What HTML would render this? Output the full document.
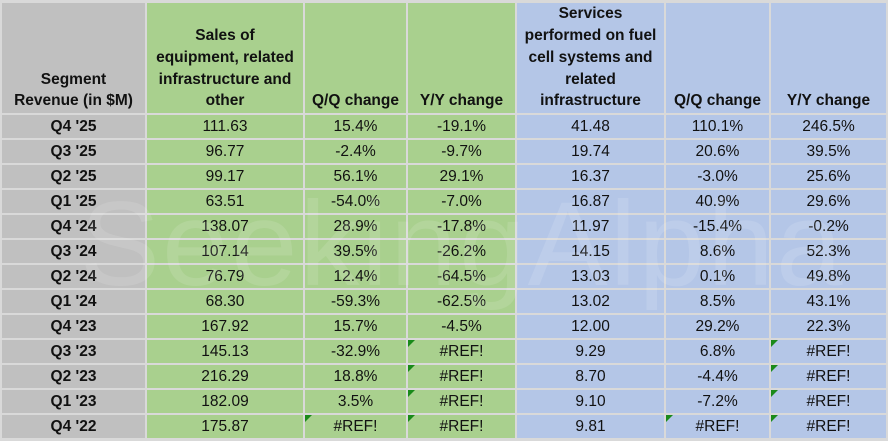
<!DOCTYPE html>
<html><head><style>
body{margin:0;width:888px;height:441px;background:#d9d9d9;overflow:hidden;position:relative;font-family:"Liberation Sans",Arial,sans-serif;}
.c{position:absolute;box-sizing:border-box;display:flex;align-items:center;justify-content:center;text-align:center;color:#111;font-size:15.5px;}
.h{align-items:flex-end;font-weight:bold;line-height:21.7px;padding-bottom:1px;font-size:15.5px;}
.g{background:#c0c0c0}.gr{background:#a9d08e}.b{background:#b4c6e7}
.t{position:absolute;left:0;top:0;width:0;height:0;border-top:7px solid #1a8a1a;border-right:7px solid transparent;}
.wm{position:absolute;left:80px;top:175px;font-size:120px;color:rgba(255,255,255,0.12);letter-spacing:2px;white-space:nowrap;}
</style></head><body>
<div id="root"></div>
<script>
const xs=[2,147,305,408,517,666,771,888];
const cls=['g','gr','gr','gr','b','b','b'];
const heads=['Segment<br>Revenue (in $M)','Sales of<br>equipment, related<br>infrastructure and<br>other','Q/Q change','Y/Y change','Services<br>performed on fuel<br>cell systems and<br>related<br>infrastructure','Q/Q change','Y/Y change'];
const rows=[
["Q4 '25","111.63","15.4%","-19.1%","41.48","110.1%","246.5%"],
["Q3 '25","96.77","-2.4%","-9.7%","19.74","20.6%","39.5%"],
["Q2 '25","99.17","56.1%","29.1%","16.37","-3.0%","25.6%"],
["Q1 '25","63.51","-54.0%","-7.0%","16.87","40.9%","29.6%"],
["Q4 '24","138.07","28.9%","-17.8%","11.97","-15.4%","-0.2%"],
["Q3 '24","107.14","39.5%","-26.2%","14.15","8.6%","52.3%"],
["Q2 '24","76.79","12.4%","-64.5%","13.03","0.1%","49.8%"],
["Q1 '24","68.30","-59.3%","-62.5%","13.02","8.5%","43.1%"],
["Q4 '23","167.92","15.7%","-4.5%","12.00","29.2%","22.3%"],
["Q3 '23","145.13","-32.9%","#REF!","9.29","6.8%","#REF!"],
["Q2 '23","216.29","18.8%","#REF!","8.70","-4.4%","#REF!"],
["Q1 '23","182.09","3.5%","#REF!","9.10","-7.2%","#REF!"],
["Q4 '22","175.87","#REF!","#REF!","9.81","#REF!","#REF!"]];
let h='';
for(let i=0;i<7;i++){
 const w=xs[i+1]-xs[i]-2;
 h+=`<div class="c h ${cls[i]}" style="left:${xs[i]}px;top:3px;width:${w}px;height:110px">${heads[i]}</div>`;
 rows.forEach((r,j)=>{
  const y=115+j*25;
  const tri=(r[i]=='#REF!')?'<div class="t"></div>':'';
  h+=`<div class="c ${cls[i]}" style="left:${xs[i]}px;top:${y}px;width:${w}px;height:23px;${i==0?'font-weight:bold;':''}">${tri}${r[i]}</div>`;
 });
}
h+='<div class="wm">SeekingAlpha</div>';
document.getElementById('root').innerHTML=h;
</script>
</body></html>
